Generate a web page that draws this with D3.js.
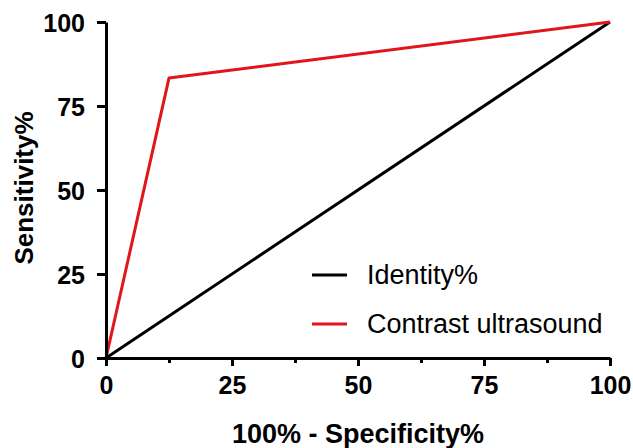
<!DOCTYPE html>
<html>
<head>
<meta charset="utf-8">
<script src="https://cdn.jsdelivr.net/npm/d3@7"></script>
<style>
  body { margin: 0; background: #fff; }
  svg text { font-family: "Liberation Sans", Arial, sans-serif; }
</style>
</head>
<body>
<svg id="chart" width="633" height="448"></svg>
<script>
// data
var seriesNames = ["Identity%", "Contrast ultrasound"];
var seriesColors = ["#000000", "#e0161b"];
var identityX = [0, 100];
var identityY = [0, 100];
var contrastX = [0, 12.5, 100];
var contrastY = [0, 83.3, 100];
var majorTicks = [0, 25, 50, 75, 100];
var minorTicks = [12.5, 37.5, 62.5, 87.5];

var svg = d3.select("#chart");
var margin = { left: 106, top: 22, right: 23, bottom: 90 };
var width = 633 - margin.left - margin.right;
var height = 448 - margin.top - margin.bottom;

var x = d3.scaleLinear().domain([0, 100]).range([0, width]);
var y = d3.scaleLinear().domain([0, 100]).range([height, 0]);

var g = svg.append("g").attr("transform", `translate(${margin.left},${margin.top})`);

// lines
var line = d3.line().x(d => x(d[0])).y(d => y(d[1]));
var series = [
    d3.zip(identityX, identityY),
    d3.zip(contrastX, contrastY)
];
g.selectAll("path.series")
    .data(series)
    .join("path")
    .attr("class", "series")
    .attr("d", line)
    .attr("fill", "none")
    .attr("stroke", (d, i) => seriesColors[i])
    .attr("stroke-width", 3)
    .attr("stroke-linejoin", "round");

// axes
var xAxis = g.append("g")
    .attr("transform", `translate(0,${height})`)
    .call(d3.axisBottom(x).tickValues(majorTicks).tickSize(8).tickPadding(10).tickSizeOuter(0));
g.append("g")
    .attr("transform", `translate(0,${height})`)
    .call(d3.axisBottom(x).tickValues(minorTicks).tickSize(5).tickFormat("").tickSizeOuter(0))
    .call(a => a.select(".domain").remove())
    .selectAll("line").attr("stroke-width", 3);

var yAxis = g.append("g")
    .call(d3.axisLeft(y).tickValues(majorTicks).tickSize(9).tickPadding(12).tickSizeOuter(0));

[xAxis, yAxis].forEach(a => {
    a.select(".domain").attr("stroke-width", 3).attr("stroke", "#000");
    a.selectAll(".tick line").attr("stroke-width", 3).attr("stroke", "#000");
    a.selectAll(".tick text")
        .attr("fill", "#000")
        .style("font-size", "25px")
        .style("font-weight", "bold");
});
yAxis.selectAll(".tick text").attr("dy", "0.36em");

// axis titles
svg.append("text")
    .attr("x", 358)
    .attr("y", 443)
    .attr("text-anchor", "middle")
    .style("font-size", "27px")
    .style("font-weight", "bold")
    .text("100% - Specificity%");

svg.append("text")
    .attr("transform", `translate(33,188) rotate(-90)`)
    .attr("text-anchor", "middle")
    .style("font-size", "26px")
    .style("font-weight", "bold")
    .text("Sensitivity%");

// legend
var legend = svg.append("g").attr("transform", "translate(312,275)");
var items = legend.selectAll("g")
    .data(seriesNames)
    .join("g")
    .attr("transform", (d, i) => `translate(0,${i * 49})`);
items.append("line")
    .attr("x1", 0).attr("x2", 35)
    .attr("stroke", (d, i) => seriesColors[i])
    .attr("stroke-width", 3);
items.append("text")
    .attr("x", 55)
    .attr("y", 9)
    .style("font-size", "27px")
    .text(d => d);
</script>
</body>
</html>
